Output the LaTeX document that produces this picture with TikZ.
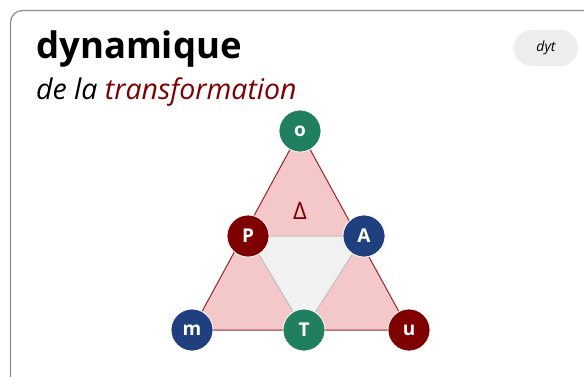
\documentclass[tikz,border=0pt]{standalone}
\usepackage{fontspec}
\setmainfont{Open Sans}
\usetikzlibrary{backgrounds}
\definecolor{dtgreen}{HTML}{1F7F5F}
\definecolor{dtred}{HTML}{7F0000}
\definecolor{dtblue}{HTML}{1F3F7F}
\definecolor{dtpink}{HTML}{F4C8C8}
\definecolor{dtgray}{HTML}{F1F1F1}

\begin{document}
\begin{tikzpicture}[x=1pt,y=-1pt,
  pole/.style={circle,minimum size=42pt,inner sep=0pt,draw=white,line width=0.8pt,
    text=white,font=\fontsize{19}{19}\selectfont\bfseries}]
\useasboundingbox (0,0) rectangle (584,376);
% card
\begin{scope}
\clip (0,0) rectangle (584,376);
\draw[line width=1.2pt,draw=black!45,rounded corners=12pt] (10.5,10.5) rectangle (600,392);
\end{scope}
% heading
\node[anchor=base west,inner sep=0pt,font=\fontsize{36.5}{36.5}\selectfont\bfseries] (title) at (36,58) {dynamique};
\node[anchor=base west,inner sep=0pt,font=\fontsize{28.5}{28.5}\selectfont\itshape] (sub) at (36,99) {de la \textcolor{dtred}{transformation}};
\node[fill=black!7,rounded corners=18pt,minimum width=64pt,minimum height=36pt,inner sep=0pt,
  font=\fontsize{14}{14}\selectfont\itshape] (tag) at (546,48) {dyt};
% poles
\node[pole,fill=dtgreen] (o) at (300,131) {o};
\node[pole,fill=dtred] (P) at (248,236) {P};
\node[pole,fill=dtblue] (A) at (364,236) {A};
\node[pole,fill=dtblue] (m) at (192,330) {m};
\node[pole,fill=dtgreen] (T) at (304,330) {T};
\node[pole,fill=dtred] (u) at (409,330) {u};
\node[text=dtred,font=\fontsize{24}{24}\selectfont] (delta) at (300,211) {Δ};
\begin{scope}[on background layer]
\draw[line width=1pt,draw=dtred!85,fill=dtpink] (o.center) -- (m.center) -- (u.center) -- cycle;
\draw[line width=1pt,draw=black!25,fill=dtgray] (P.center) -- (A.center) -- (T.center) -- cycle;
\end{scope}
\end{tikzpicture}
\end{document}
